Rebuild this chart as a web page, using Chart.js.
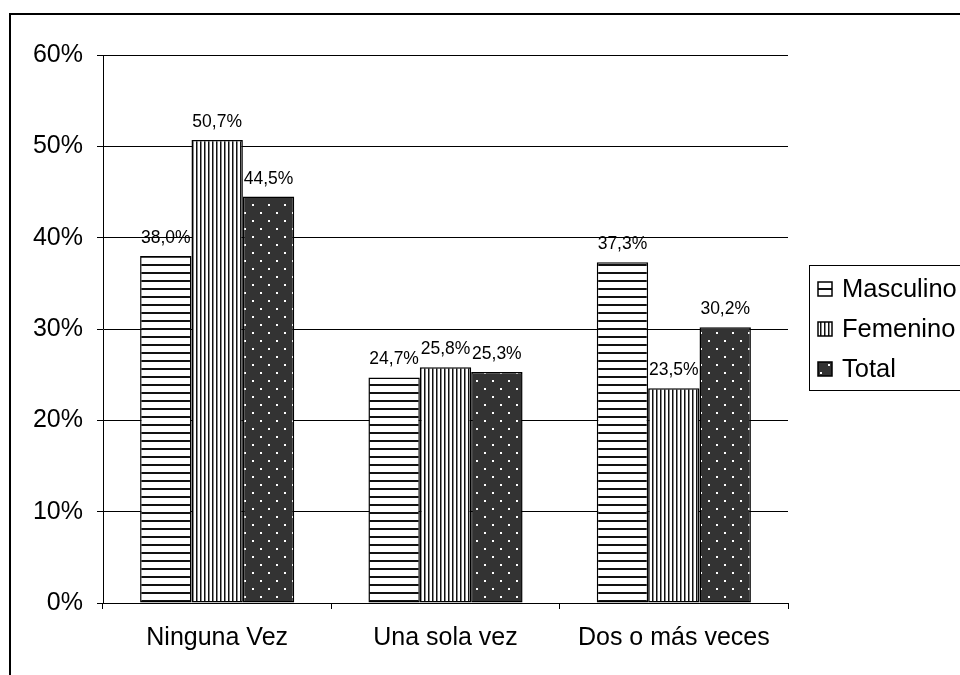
<!DOCTYPE html>
<html><head><meta charset="utf-8">
<script src="https://cdn.jsdelivr.net/npm/chart.js@4/dist/chart.umd.min.js"></script>
<style>html,body{margin:0;padding:0;background:#fff}#wrap{position:relative;width:960px;height:675px}</style>
</head><body><div id="wrap"><canvas id="c" width="960" height="675"></canvas></div>
<script>
const categories = ['Ninguna Vez', 'Una sola vez', 'Dos o más veces'];
const masculino = [38.0, 24.7, 37.3];
const femenino = [50.7, 25.8, 23.5];
const total = [44.5, 25.3, 30.2];
const seriesNames = ['Masculino', 'Femenino', 'Total'];
const yMin = 0, yMax = 60, yStep = 10;

const FONT = '"Liberation Sans", Arial, sans-serif';

function makePattern(kind) {
  const t = document.createElement('canvas');
  const g = t.getContext('2d');
  if (kind === 'h') {
    t.width = 8; t.height = 8;
    g.fillStyle = '#fff'; g.fillRect(0, 0, 8, 8);
    g.fillStyle = '#111'; g.fillRect(0, 0, 8, 2);
  } else if (kind === 'v') {
    t.width = 4; t.height = 4;
    g.fillStyle = '#fff'; g.fillRect(0, 0, 4, 4);
    g.fillStyle = '#111'; g.fillRect(0, 0, 1.5, 4);
  } else {
    t.width = 16; t.height = 16;
    g.fillStyle = '#333'; g.fillRect(0, 0, 16, 16);
    g.fillStyle = '#fff';
    g.fillRect(4, 4, 2, 2);
    g.fillRect(12, 12, 2, 2);
  }
  return g.createPattern(t, 'repeat');
}
const ctx0 = document.getElementById('c').getContext('2d');
const patterns = [makePattern('h'), makePattern('v'), makePattern('d')];

const framePlugin = {
  id: 'frame',
  beforeDraw(chart) {
    const c = chart.ctx;
    c.save();
    c.fillStyle = '#fff';
    c.fillRect(0, 0, chart.width, chart.height);
    c.strokeStyle = '#000';
    c.lineWidth = 2;
    c.strokeRect(10, 14, 1200, 1200);
    c.restore();
  }
};

const labelPlugin = {
  id: 'vals',
  afterDatasetsDraw(chart) {
    const c = chart.ctx;
    c.save();
    c.font = '17.5px ' + FONT;
    c.fillStyle = '#000';
    c.textAlign = 'center';
    c.textBaseline = 'alphabetic';
    chart.data.datasets.forEach((ds, i) => {
      const meta = chart.getDatasetMeta(i);
      meta.data.forEach((el, j) => {
        const txt = ds.data[j].toFixed(1).replace('.', ',') + '%';
        c.fillText(txt, el.x, el.y - 13);
      });
    });
    c.restore();
  }
};

const legendPlugin = {
  id: 'customLegend',
  afterDraw(chart) {
    const c = chart.ctx;
    c.save();
    c.strokeStyle = '#000';
    c.lineWidth = 1;
    c.strokeRect(809.5, 265.5, 200, 125);
    c.font = '25.5px ' + FONT;
    c.textBaseline = 'middle';
    c.textAlign = 'left';
    chart.data.datasets.forEach((ds, i) => {
      const cy = 289 + i * 40;
      c.fillStyle = ds.backgroundColor;
      c.fillRect(818, cy - 7, 14, 14);
      c.strokeStyle = '#000';
      c.lineWidth = 1.5;
      c.strokeRect(818, cy - 7, 14, 14);
      c.fillStyle = '#000';
      c.fillText(ds.label, 842, cy + 1);
    });
    c.restore();
  }
};

const seriesData = [masculino, femenino, total];
new Chart(ctx0, {
  type: 'bar',
  data: {
    labels: categories,
    datasets: seriesNames.map((n, i) => ({
      label: n,
      data: seriesData[i],
      backgroundColor: patterns[i],
      borderColor: '#000',
      borderWidth: 1.5,
      borderSkipped: false,
      categoryPercentage: 0.675,
      barPercentage: 1.0
    }))
  },
  options: {
    responsive: false,
    animation: false,
    devicePixelRatio: 1,
    layout: { padding: { top: 55, left: 0, right: 172, bottom: 0 } },
    plugins: { legend: { display: false }, tooltip: { enabled: false } },
    scales: {
      x: {
        afterFit(s) { s.height = 72; },
        grid: { offset: true, drawOnChartArea: false, drawTicks: true, tickLength: 6, color: '#000', lineWidth: 1 },
        border: { display: true, color: '#000', width: 1 },
        ticks: { color: '#000', font: { family: FONT, size: 25 }, padding: 14, maxRotation: 0 }
      },
      y: {
        min: yMin, max: yMax,
        afterFit(s) { s.width = 103; },
        grid: { color: '#000', lineWidth: 1, drawTicks: true, tickLength: 6 },
        border: { display: true, color: '#000', width: 1 },
        ticks: { stepSize: yStep, color: '#000', font: { family: FONT, size: 25 }, padding: 14, callback: v => v + '%' }
      }
    }
  },
  plugins: [framePlugin, labelPlugin, legendPlugin]
});
</script></body></html>
